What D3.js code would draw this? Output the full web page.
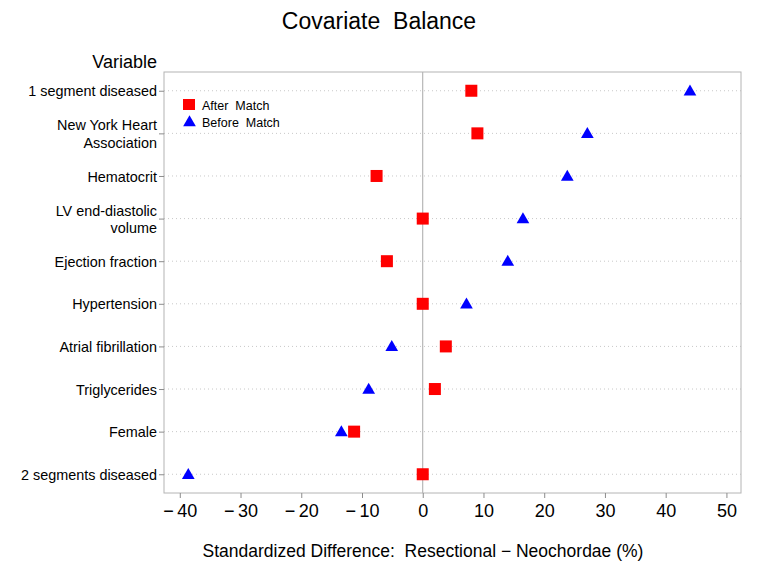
<!DOCTYPE html>
<html>
<head>
<meta charset="utf-8">
<script src="https://cdn.jsdelivr.net/npm/d3@7"></script>
<style>
  html, body { margin: 0; padding: 0; background: #fff; }
  svg { display: block; font-family: "Liberation Sans", Arial, Helvetica, sans-serif; }
  text { white-space: pre; }
</style>
</head>
<body>
<svg id="chart" width="760" height="577"></svg>
<script>
// ---- data ----
const variables = [
  "1 segment diseased",
  "New York Heart|Association",
  "Hematocrit",
  "LV end-diastolic|volume",
  "Ejection fraction",
  "Hypertension",
  "Atrial fibrillation",
  "Triglycerides",
  "Female",
  "2 segments diseased"
];
const afterMatch  = [8.0, 9.0, -7.6, 0.0, -5.9, 0.0, 3.8, 2.0, -11.3, 0.0];
const beforeMatch = [44.0, 27.1, 23.8, 16.5, 14.0, 7.2, -5.1, -8.9, -13.4, -38.6];
const xTicks = [-40, -30, -20, -10, 0, 10, 20, 30, 40, 50];
const seriesNames = ["After Match", "Before Match"];

// ---- layout ----
const svg = d3.select("#chart");
const plot = { left: 164, right: 741, top: 72, bottom: 493 };

const x = d3.scaleLinear().domain([-42.6, 52.4]).range([plot.left, plot.right]);
const y = d3.scalePoint().domain(variables).range([plot.top, plot.bottom]).padding(0.44);

// title
svg.append("text").attr("x", 379).attr("y", 29).attr("text-anchor", "middle")
  .attr("font-size", 23).attr("fill", "#000").text("Covariate  Balance");

// "Variable" header
svg.append("text").attr("x", 157).attr("y", 68).attr("text-anchor", "end")
  .attr("font-size", 18).attr("fill", "#000").text("Variable");

// gridlines (dotted)
svg.append("g").selectAll("line").data(variables).join("line")
  .attr("x1", plot.left).attr("x2", plot.right)
  .attr("y1", d => y(d)).attr("y2", d => y(d))
  .attr("stroke", "#c8c8c8").attr("stroke-width", 1).attr("stroke-dasharray", "1,3");

// reference line at 0
svg.append("line").attr("x1", x(0)).attr("x2", x(0))
  .attr("y1", plot.top).attr("y2", plot.bottom)
  .attr("stroke", "#a8a8a8").attr("stroke-width", 1);

// frame
svg.append("rect").attr("x", plot.left).attr("y", plot.top)
  .attr("width", plot.right - plot.left).attr("height", plot.bottom - plot.top)
  .attr("fill", "none").attr("stroke", "#b4b4b4").attr("stroke-width", 1);

// x axis
const fmt = d => d < 0 ? "\u2212\u2009" + Math.abs(d) : String(d);
const xAxis = svg.append("g").attr("transform", `translate(0,${plot.bottom})`)
  .call(d3.axisBottom(x).tickValues(xTicks).tickFormat(fmt).tickSize(5).tickPadding(6));
xAxis.select(".domain").remove();
xAxis.selectAll(".tick line").attr("stroke", "#8c8c8c");
xAxis.selectAll(".tick text").attr("font-size", 18).attr("fill", "#000")
  .attr("font-family", "'Liberation Sans', Arial, sans-serif");

// y axis
const yAxis = svg.append("g").attr("transform", `translate(${plot.left},0)`)
  .call(d3.axisLeft(y).tickSize(5).tickPadding(3).tickFormat(""));
yAxis.select(".domain").remove();
yAxis.selectAll(".tick line").attr("stroke", "#8c8c8c");
yAxis.selectAll(".tick").each(function(d) {
  const lines = d.split("|");
  const t = d3.select(this).append("text")
    .attr("x", -7).attr("text-anchor", "end")
    .attr("font-size", 14.4).attr("fill", "#000")
    .attr("font-family", "'Liberation Sans', Arial, sans-serif");
  const lh = 17.5;
  const start = -(lines.length - 1) * lh / 2;
  lines.forEach((ln, i) => {
    t.append("tspan").attr("x", -7).attr("y", start + i * lh).attr("dy", "0.36em").text(ln);
  });
});

// x axis title
svg.append("text").attr("x", 423).attr("y", 557).attr("text-anchor", "middle")
  .attr("font-size", 17.5).attr("fill", "#000")
  .text("Standardized Difference:  Resectional \u2212 Neochordae (%)");

// markers
const sq = 12;
svg.append("g").selectAll("rect").data(variables).join("rect")
  .attr("x", (d, i) => x(afterMatch[i]) - sq / 2)
  .attr("y", d => y(d) - sq / 2)
  .attr("width", sq).attr("height", sq).attr("fill", "#ff0000");

const tri = d3.symbol().type(d3.symbolTriangle).size(70);
svg.append("g").selectAll("path").data(variables).join("path")
  .attr("d", tri)
  .attr("transform", (d, i) => `translate(${x(beforeMatch[i])},${y(d) + 1})`)
  .attr("fill", "#0000ff");

// legend
const lg = svg.append("g");
lg.append("rect").attr("x", 183).attr("y", 99).attr("width", 12).attr("height", 11).attr("fill", "#ff0000");
lg.append("path").attr("d", tri).attr("transform", "translate(189.5,122.5)").attr("fill", "#0000ff");
lg.append("text").attr("x", 202).attr("y", 110).attr("font-size", 12.5).attr("fill", "#000").text("After  Match");
lg.append("text").attr("x", 202).attr("y", 126.5).attr("font-size", 12.5).attr("fill", "#000").text("Before  Match");
</script>
</body>
</html>
